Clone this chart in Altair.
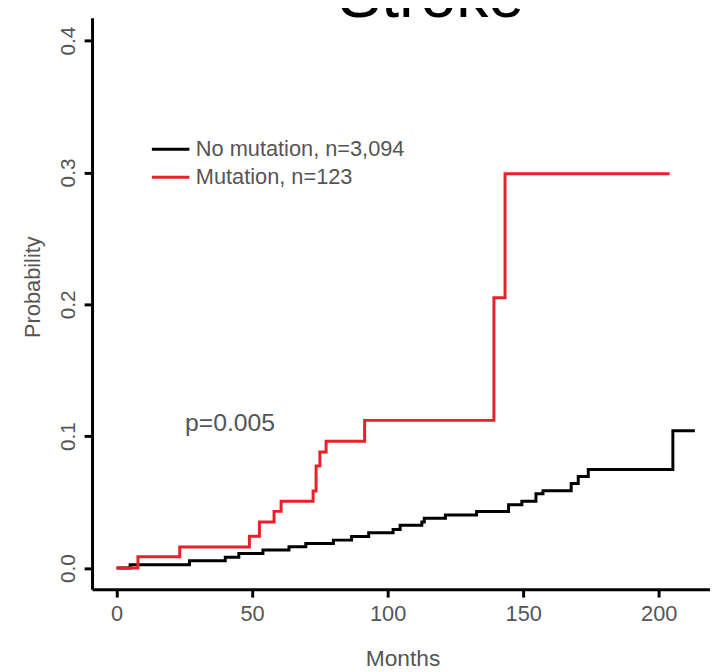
import altair as alt
import pandas as pd

# ---- data ----
mut_label = "Mutation, n=123"
nomut_label = "No mutation, n=3,094"

months_mut = [0, 7.9, 23.3, 49.0, 52.7, 58.1, 60.7, 72.5, 73.6, 75.0, 77.3, 91.5, 139.2, 143.3, 204.0]
prob_mut = [0.0, 0.0085, 0.016, 0.0242, 0.035, 0.043, 0.0507, 0.0584, 0.0774, 0.088, 0.0962, 0.112, 0.205, 0.299, 0.299]

months_nomut = [0, 5.0, 26.9, 40.1, 45.1, 54.0, 63.6, 69.8, 80.0, 86.7, 93.0, 102.0, 104.6, 112.6, 113.5,
                121.3, 132.8, 144.6, 149.5, 154.7, 157.3, 167.7, 170.3, 174.0, 205.2, 213.3]
prob_nomut = [0.0, 0.0025, 0.0055, 0.0082, 0.011, 0.0137, 0.0162, 0.0187, 0.0212, 0.0239, 0.0267, 0.0292,
              0.0324, 0.0349, 0.0377, 0.0402, 0.0429, 0.048, 0.0507, 0.0564, 0.0587, 0.0642, 0.0694,
              0.0747, 0.1041, 0.1041]

x_ticks = [0, 50, 100, 150, 200]
y_ticks = [0.0, 0.1, 0.2, 0.3, 0.4]
title_text = ["Stroke"]
pvalue_text = ["p=0.005"]

FONT = "Liberation Sans, Arial, sans-serif"
TXT = "#555555"

df = pd.concat([
    pd.DataFrame({"month": months_nomut, "prob": prob_nomut, "group": nomut_label}),
    pd.DataFrame({"month": months_mut, "prob": prob_mut, "group": mut_label}),
], ignore_index=True)

x_scale = alt.Scale(domain=[-9.04, 218.9], nice=False, zero=False)
y_scale = alt.Scale(domain=[-0.016, 0.4174], nice=False, zero=False)

lines = alt.Chart(df).mark_line(interpolate="step-after", strokeWidth=3).encode(
    x=alt.X("month:Q", scale=x_scale,
            axis=alt.Axis(values=x_ticks, title="Months", grid=False,
                          domainColor="black", domainWidth=3, tickColor="black", tickWidth=3, tickSize=8,
                          labelFontSize=22, labelColor=TXT, labelFont=FONT, labelPadding=7,
                          titleFontSize=23, titleFontWeight="normal", titleColor=TXT, titleFont=FONT,
                          titleX=314, titleY=77, titleBaseline="alphabetic", titleAlign="center")),
    y=alt.Y("prob:Q", scale=y_scale,
            axis=alt.Axis(values=y_ticks, format=".1f", title="Probability", grid=False,
                          domainColor="black", domainWidth=3, tickColor="black", tickWidth=3, tickSize=8,
                          labelFontSize=21, labelColor=TXT, labelFont=FONT, labelAngle=270,
                          labelAlign="center", labelBaseline="bottom", labelPadding=6,
                          titleFontSize=22, titleFontWeight="normal", titleColor=TXT, titleFont=FONT,
                          titleAngle=270, titleX=-60, titleY=272, titleBaseline="middle", titleAlign="center")),
    color=alt.Color("group:N",
                    scale=alt.Scale(domain=[nomut_label, mut_label], range=["#000000", "#e8202a"]),
                    legend=alt.Legend(title=None, orient="none", legendX=59, legendY=122,
                                      symbolType="stroke", symbolSize=1444, symbolStrokeWidth=3,
                                      labelFontSize=22, labelColor=TXT, labelFont=FONT, labelOffset=5,
                                      labelLimit=500, clipHeight=22, rowPadding=6.4, padding=0)),
)

title = alt.Chart(pd.DataFrame({"t": title_text})).mark_text(
    fontSize=65, font=FONT, color="black", align="center", baseline="alphabetic"
).encode(x=alt.value(343), y=alt.value(-1), text="t:N")

pval = alt.Chart(pd.DataFrame({"t": pvalue_text})).mark_text(
    fontSize=25, font=FONT, color=TXT, align="left", baseline="middle"
).encode(x=alt.value(94), y=alt.value(410), text="t:N")

chart = alt.layer(lines, pval, title).properties(
    width=625, height=578,
    padding={"left": 85, "top": 6, "right": 0, "bottom": 80},
    autosize=alt.AutoSizeParams(type="none"),
    background="white",
).configure_view(strokeWidth=0)

chart.save("out.html", embed_options={"renderer": "svg", "actions": False})
